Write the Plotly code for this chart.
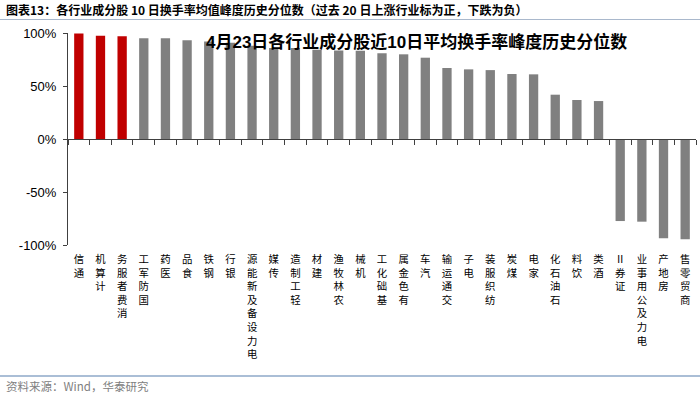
import plotly.graph_objects as go

categories = ["通信", "计算机", "消费者服务", "国防军工", "医药", "食品", "钢铁", "银行",
              "电力设备及新能源", "传媒", "轻工制造", "建材", "农林牧渔", "机械", "基础化工",
              "有色金属", "汽车", "交通运输", "电子", "纺织服装", "煤炭", "家电", "石油石化",
              "饮料", "酒类", "证券Ⅱ", "电力及公用事业", "房地产", "商贸零售"]
values = [99.5, 97.5, 96.9, 95.0, 95.0, 93.1, 92.0, 90.9, 88.0, 85.8, 85.8, 84.3, 83.6,
          83.3, 80.8, 79.9, 76.7, 67.0, 65.7, 65.0, 61.3, 61.0, 41.8, 36.8, 35.8,
          -77.4, -78.0, -93.7, -94.6]
highlight = ["通信", "计算机", "消费者服务"]
ytick_vals = [-100, -50, 0, 50, 100]
ytick_text = ["-100%", "-50%", "0%", "50%", "100%"]

title_text = "图表13：各行业成分股 10 日换手率均值峰度历史分位数（过去 20 日上涨行业标为正，下跌为负）"
inner_title = "4月23日各行业成分股近10日平均换手率峰度历史分位数"
source_text = "资料来源：Wind，华泰研究"

FONT = "Liberation Sans, Arial, Noto Sans CJK SC, sans-serif"
CJK = "Noto Sans CJK SC, Liberation Sans, sans-serif"
colors = ["#C00000" if c in highlight else "#808080" for c in categories]
stacked = ["<br>".join(list(c)[::-1]) for c in categories]

fig = go.Figure()
fig.add_trace(go.Bar(x=categories, y=values, marker=dict(color=colors, line=dict(width=0)),
                     width=0.43, showlegend=False, hoverinfo="x+y"))
# invisible trace to carry the label axis
fig.add_trace(go.Scatter(x=categories, y=[None] * len(categories), xaxis="x2",
                         mode="markers", showlegend=False, hoverinfo="skip"))

fig.update_layout(
    width=700, height=396,
    margin=dict(l=68, r=4, t=33, b=151),
    paper_bgcolor="white", plot_bgcolor="white",
    font=dict(family=FONT, color="#000000"),
    xaxis=dict(type="category", anchor="free", position=0.5,
               showline=True, linecolor="#404040", linewidth=1,
               ticks="outside", ticklen=5, tickcolor="#404040", tickson="boundaries",
               showticklabels=False, showgrid=False, zeroline=False,
               range=[-0.5, len(categories) - 0.5]),
    xaxis2=dict(type="category", overlaying="x", matches="x", anchor="y", side="bottom",
                showline=False, ticks="", showgrid=False, zeroline=False,
                tickmode="array", tickvals=categories, ticktext=stacked, tickangle=0,
                tickfont=dict(size=10.4, color="#000000", family=CJK),
                ticklabelstandoff=7),
    yaxis=dict(range=[-100, 100], tickmode="array", tickvals=ytick_vals, ticktext=ytick_text,
               showline=True, linecolor="#404040", linewidth=1, ticks="outside", ticklen=4,
               tickcolor="#404040", showgrid=False, zeroline=False, ticklabelstandoff=4,
               tickfont=dict(size=13, color="#000000", family=FONT)),
)

fig.add_annotation(text="<b>" + title_text + "</b>", xref="paper", yref="paper",
                   x=(4 - 68) / 628, y=(245 - 9) / 212, xanchor="left", yanchor="middle",
                   showarrow=False,
                   font=dict(size=12, color="#000000", family=CJK))
fig.add_annotation(text="<b>" + inner_title + "</b>", xref="paper", yref="paper",
                   x=(416 - 68) / 628, y=(245 - 42) / 212, xanchor="center", yanchor="middle",
                   showarrow=False,
                   font=dict(size=17, color="#000000", family=FONT))
fig.add_annotation(text=source_text, xref="paper", yref="paper",
                   x=(4 - 68) / 628, y=(245 - 386) / 212, xanchor="left", yanchor="middle",
                   showarrow=False,
                   font=dict(size=11.5, color="#808080", family=CJK))
fig.add_shape(type="line", xref="paper", yref="paper", x0=-0.11, x1=1.01,
              y0=(245 - 19.5) / 212, y1=(245 - 19.5) / 212,
              line=dict(color="#A9B8CC", width=1.2))
fig.add_shape(type="line", xref="paper", yref="paper", x0=-0.11, x1=1.01,
              y0=(245 - 376) / 212, y1=(245 - 376) / 212,
              line=dict(color="#8EA9C8", width=1.5))

fig.write_html("out.html", config={"displayModeBar": False},
               post_script="document.body.style.margin='0px';document.body.style.padding='0px';")
